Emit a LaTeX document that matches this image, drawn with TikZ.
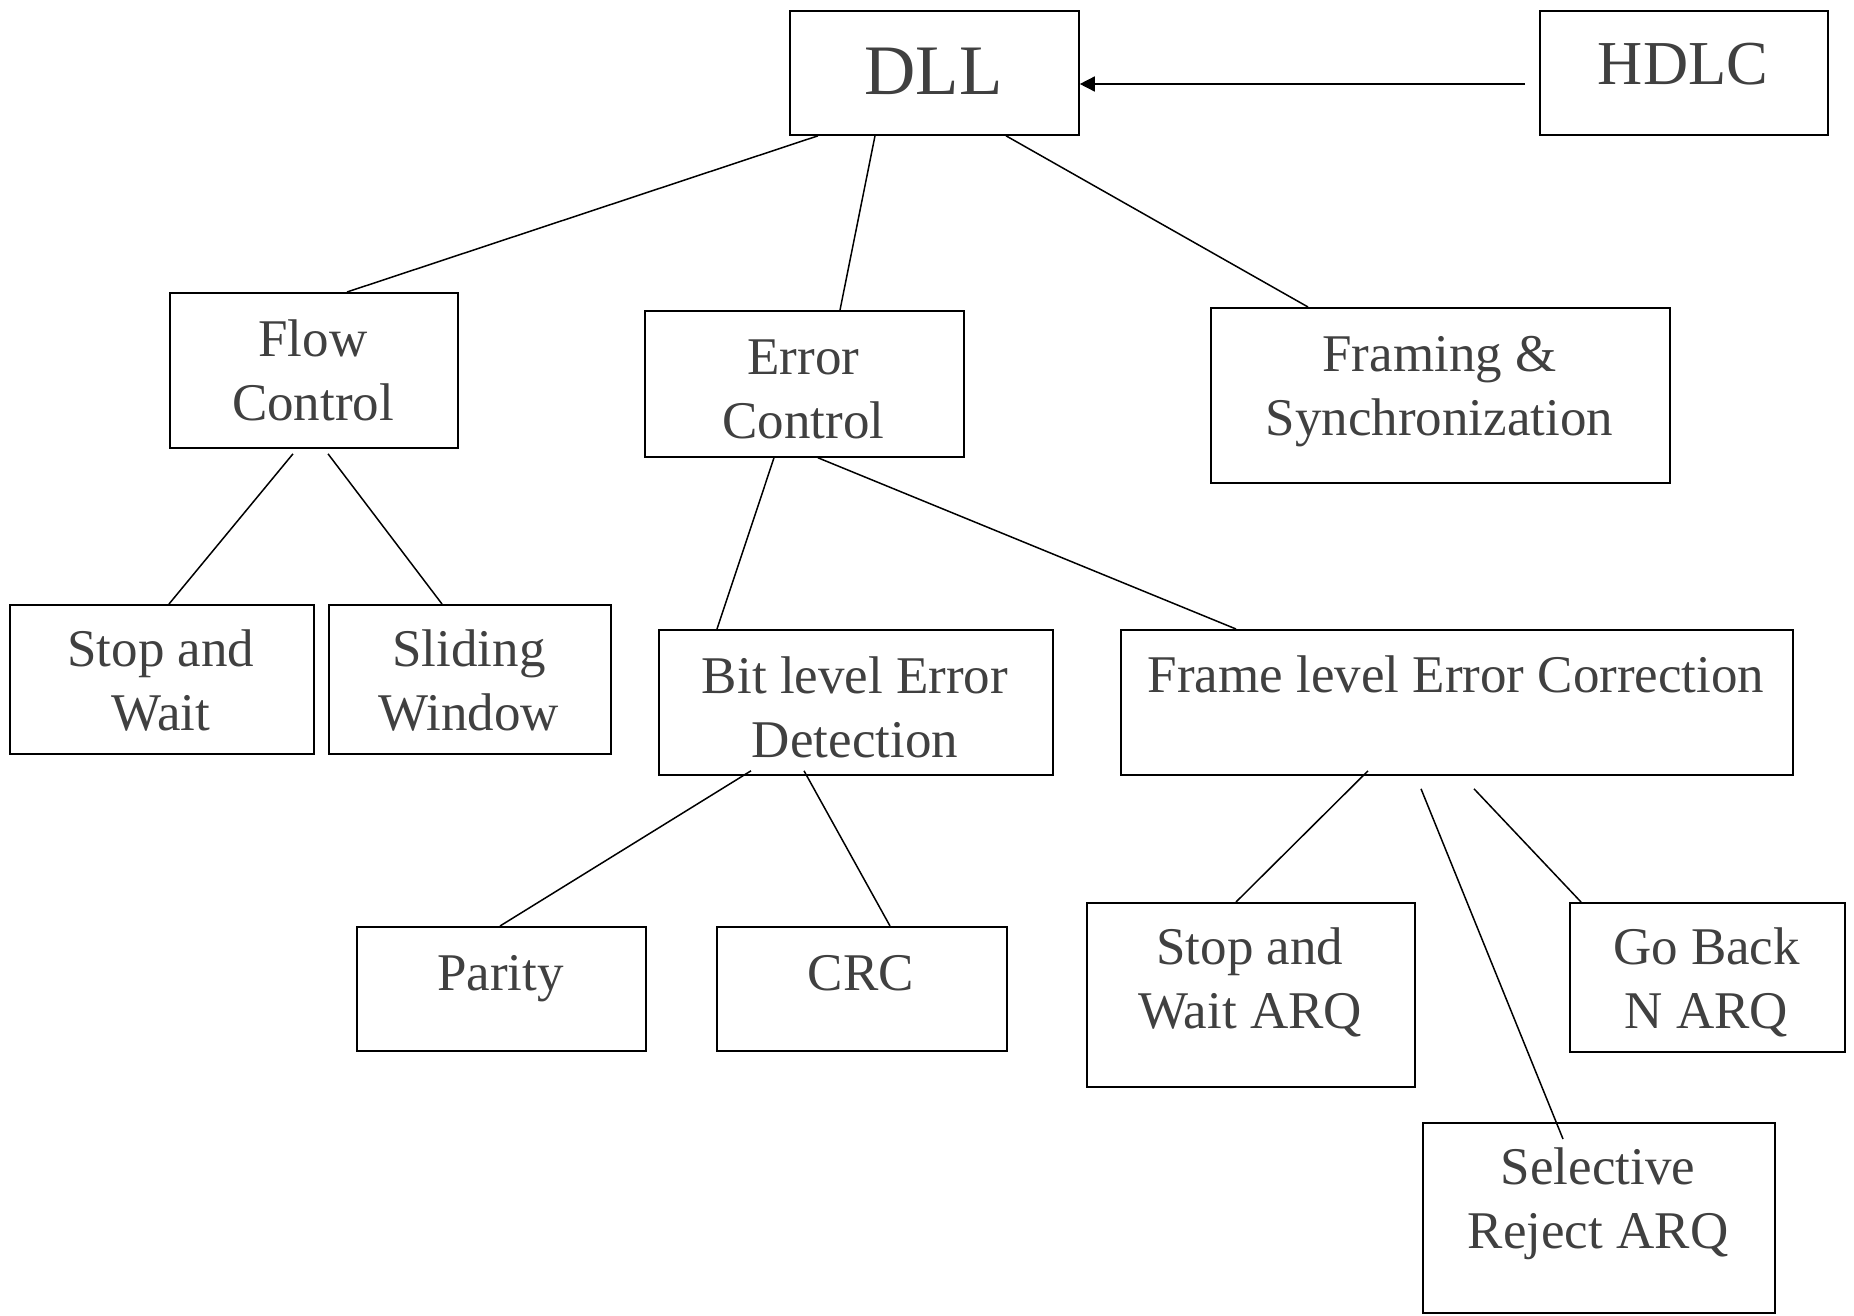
\documentclass[tikz,border=0pt]{standalone}
\usepackage{fontspec}
\setmainfont{Liberation Serif}
\usetikzlibrary{arrows.meta,calc}
\definecolor{ink}{HTML}{404040}
\begin{document}
\begin{tikzpicture}[x=1pt,y=-1pt,
  box/.style={draw=black, line width=1.8pt, inner sep=0pt, anchor=north west},
  % labels are placed by the baseline of their last line
  lbl/.style={text=ink, inner sep=0pt, anchor=base, align=center,
              font=\fontsize{53}{63.5}\selectfont},
  link/.style={draw=black, line width=1.5pt}]
\useasboundingbox (0,0) rectangle (1854,1315);

% boxes
\node[box, minimum width=289, minimum height=124] (dll)    at (789,10)   {};
\node[box, minimum width=288, minimum height=124] (hdlc)   at (1539,10)  {};
\node[box, minimum width=288, minimum height=155] (flow)   at (169,292)  {};
\node[box, minimum width=319, minimum height=146] (err)    at (644,310)  {};
\node[box, minimum width=459, minimum height=175] (fram)   at (1210,307) {};
\node[box, minimum width=304, minimum height=149] (sw)     at (9,604)    {};
\node[box, minimum width=282, minimum height=149] (slw)    at (328,604)  {};
\node[box, minimum width=394, minimum height=145] (bit)    at (658,629)  {};
\node[box, minimum width=672, minimum height=145] (frame)  at (1120,629) {};
\node[box, minimum width=289, minimum height=124] (parity) at (356,926)  {};
\node[box, minimum width=290, minimum height=124] (crc)    at (716,926)  {};
\node[box, minimum width=328, minimum height=184] (swarq)  at (1086,902) {};
\node[box, minimum width=275, minimum height=149] (gbn)    at (1569,902) {};
\node[box, minimum width=352, minimum height=190] (sel)    at (1422,1122){};

% labels
\node[lbl, font=\fontsize{71}{80}\selectfont]   (dll-t)    at (933.5,94)  {DLL};
\node[lbl, font=\fontsize{62.5}{70}\selectfont] (hdlc-t)   at (1683,84)   {HDLC};
\node[lbl] (flow-t)   at (313,420)    {Flow\\Control};
\node[lbl] (err-t)    at (803.5,438)  {Error\\Control};
\node[lbl] (fram-t)   at (1439.5,435) {Framing \&\\Synchronization};
\node[lbl] (sw-t)     at (161,730)    {Stop and\\Wait};
\node[lbl] (slw-t)    at (469,730)    {Sliding\\Window};
\node[lbl] (bit-t)    at (855,757)    {Bit level Error\\Detection};
\node[lbl] (frame-t)  at (1456,692)   {Frame level Error Correction};
\node[lbl] (parity-t) at (500.5,990)  {Parity};
\node[lbl] (crc-t)    at (861,990)    {CRC};
\node[lbl] (swarq-t)  at (1250,1028)  {Stop and\\Wait ARQ};
\node[lbl] (gbn-t)    at (1706.5,1028){Go Back\\N ARQ};
\node[lbl] (sel-t)    at (1598,1248)  {Selective\\Reject ARQ};

% connectors
\draw[link] ($(dll.south west)+(29,0)$)  -- ($(flow.north west)+(178,0)$);
\draw[link] ($(dll.south west)+(86,0)$)  -- ($(err.north west)+(196,0)$);
\draw[link] ($(dll.south west)+(217,0)$) -- ($(fram.north west)+(98,0)$);
\draw[link, -{Triangle[length=15pt,width=15pt]}]
  ($(hdlc.north west)+(-14,74)$) -- ($(dll.north east)+(0,74)$);

\draw[link] ($(flow.south west)+(124,5)$) -- ($(sw.north west)+(160,0)$);
\draw[link] ($(flow.south west)+(159,5)$) -- ($(slw.north west)+(114,0)$);

\draw[link] ($(err.south west)+(130,0)$) -- ($(bit.north west)+(59,0)$);
\draw[link] ($(err.south west)+(174,0)$) -- ($(frame.north west)+(116,0)$);

\draw[link] ($(bit.south west)+(93,-5)$)  -- ($(parity.north west)+(144,0)$);
\draw[link] ($(bit.south west)+(146,-5)$) -- ($(crc.north west)+(174,0)$);

\draw[link] ($(frame.south west)+(248,-5)$) -- ($(swarq.north west)+(150,0)$);
\draw[link] ($(frame.south west)+(301,13)$) -- ($(sel.north west)+(141,17)$);
\draw[link] ($(frame.south west)+(354,13)$) -- ($(gbn.north west)+(12,0)$);
\end{tikzpicture}
\end{document}
